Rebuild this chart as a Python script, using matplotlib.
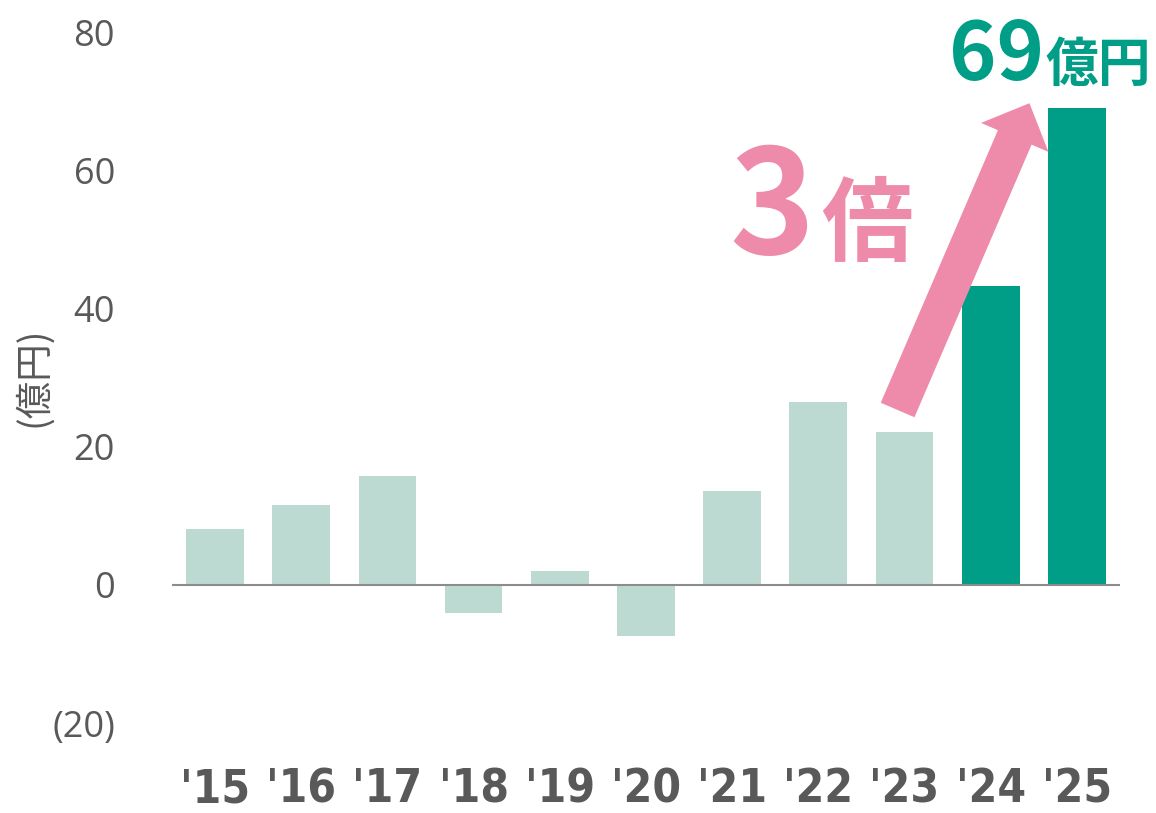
import matplotlib.pyplot as plt

plt.rcParams['font.family'] = ['Noto Sans CJK JP', 'DejaVu Sans']

# data
years = ["'15", "'16", "'17", "'18", "'19", "'20", "'21", "'22", "'23", "'24", "'25"]
profit = [8.1, 11.6, 15.8, -4.1, 2.0, -7.4, 13.6, 26.5, 22.1, 43.3, 69.0]
highlight = [False] * 9 + [True, True]
yticks = [-20, 0, 20, 40, 60, 80]
ytick_labels = ['(20)', '0', '20', '40', '60', '80']

light = '#BDDAD2'
teal = '#009E87'
pink = '#EE8BAA'
gray = '#595959'

fig = plt.figure(figsize=(11.56, 8.13), dpi=100)
ax = fig.add_axes([0.1488, 0.1107, 0.82, 0.8499])

x = list(range(len(years)))
colors = [teal if h else light for h in highlight]
ax.bar(x, profit, width=0.67, color=colors, zorder=2)
ax.axhline(0, color='#8c8c8c', lw=1.5, zorder=3)

ax.set_xlim(-0.5, len(years) - 0.5)
ax.set_ylim(-20, 80)
ax.set_yticks(yticks)
ax.set_yticklabels(ytick_labels, fontsize=26, color=gray, family=['Open Sans', 'DejaVu Sans'])
ax.set_xticks(x)
ax.set_xticklabels(years, fontsize=33, color=gray, fontweight='bold',
                   family=['DejaVu Sans'], fontstretch='condensed')
ax.tick_params(axis='y', length=0, pad=41)
ax.tick_params(axis='x', length=0, pad=32)
for s in ax.spines.values():
    s.set_visible(False)

fig.text(0.029, 0.537, '(億円)', fontsize=27, color=gray, rotation=90,
         ha='center', va='center')

# growth arrow from '23 to '25
x0, y0 = 7.92, 25.3
x1, y1 = 9.45, 69.7
ax.annotate('', xy=(x1, y1), xytext=(x0, y0),
            arrowprops=dict(arrowstyle='simple,head_length=0.67,head_width=1.32,tail_width=0.66',
                            mutation_scale=40, color=pink, lw=0, shrinkA=0, shrinkB=0),
            zorder=4)

ax.text(6.46, 54.0, '3', fontsize=104, fontweight='bold', color=pink, ha='center', va='center')
ax.text(7.57, 51.8, '倍', fontsize=66, fontweight='bold', color=pink, ha='center', va='center')
ax.text(9.07, 76.4, '69', fontsize=58, fontweight='bold', color=teal, ha='center', va='center')
ax.text(10.25, 75.2, '億円', fontsize=38, fontweight='bold', color=teal, ha='center', va='center')

fig.savefig('out.png', dpi=100)
